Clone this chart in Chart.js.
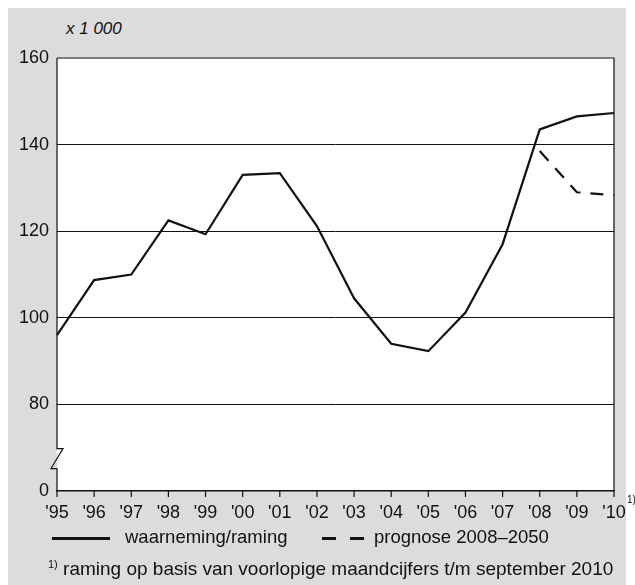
<!DOCTYPE html>
<html><head><meta charset="utf-8">
<script src="https://cdn.jsdelivr.net/npm/chart.js@4"></script>
<style>
body{margin:0;background:#fff;font-family:"Liberation Sans",Arial,sans-serif;}
#bg{position:absolute;left:8px;top:8px;width:618px;height:577px;background:#dcdcdc;}
#wrap{position:absolute;left:0px;top:8px;width:635px;height:520px;}
.t{position:absolute;font-size:18.5px;color:#111;white-space:nowrap;}
.ln{position:absolute;height:3px;background:#111;}
</style></head><body>
<div id="bg"></div>
<div class="t" style="left:66px;top:19px;font-style:italic;font-size:17px;">x 1 000</div>
<div id="wrap"><canvas id="c"></canvas></div>
<div class="ln" style="left:52px;top:537px;width:58px;"></div>
<div class="t" style="left:125px;top:526px;">waarneming/raming</div>
<div class="ln" style="left:322px;top:537px;width:14px;"></div>
<div class="ln" style="left:350px;top:537px;width:14px;"></div>
<div class="t" style="left:374px;top:526px;">prognose 2008–2050</div>
<div class="t" style="left:48px;top:558px;font-size:19px;"><span style="font-size:11px;position:relative;top:-7px">1)</span> raming op basis van voorlopige maandcijfers t/m september 2010</div>
<script>
const labels=["'95","'96","'97","'98","'99","'00","'01","'02","'03","'04","'05","'06","'07","'08","'09","'10"];
const observed=[96,108.7,110,122.5,119.3,133,133.4,121.2,104.5,94,92.3,101.2,117,143.5,146.5,147.3];
const forecast=[null,null,null,null,null,null,null,null,null,null,null,null,null,138.5,129,128.3];
const yTicks=[60,80,100,120,140,160];
const yLabels={60:'0',80:'80',100:'100',120:'120',140:'140',160:'160'};
const breakPlugin={id:'brk',afterDraw(ch){const c=ch.ctx,a=ch.chartArea,y=ch.scales.y,xs=ch.scales.x;
 const yb=y.getPixelForValue(67.5);c.save();c.fillStyle='#dcdcdc';c.fillRect(a.left-8,yb-12,8,24);
 c.strokeStyle='#111';c.lineWidth=1.2;c.beginPath();c.moveTo(a.left,y.getPixelForValue(60));c.lineTo(a.left,yb+10);c.lineTo(a.left-6,yb+10);c.lineTo(a.left+6,yb-10);c.lineTo(a.left,yb-10);c.lineTo(a.left,a.top);c.stroke();
 c.beginPath();for(let i=0;i<labels.length;i++){const px=xs.getPixelForValue(i);c.moveTo(px,a.bottom);c.lineTo(px,a.bottom+6);}c.stroke();
 c.fillStyle='#111';c.font='10px "Liberation Sans"';c.fillText('1)',xs.getPixelForValue(15)+13,a.bottom+12);c.restore();}};
const bgPlugin={id:'bg',beforeDraw(ch){const a=ch.chartArea,c=ch.ctx;c.save();c.fillStyle='#fff';c.fillRect(a.left,a.top,a.right-a.left,a.bottom-a.top);c.restore();}};
new Chart(document.getElementById('c'),{type:'line',
data:{labels,datasets:[
{data:observed,borderColor:'#111',borderWidth:2.2,pointRadius:0,tension:0},
{data:forecast,borderColor:'#111',borderWidth:2.2,borderDash:[13,10],pointRadius:0,tension:0}]},
options:{responsive:true,maintainAspectRatio:false,animation:false,
layout:{padding:{top:50,right:21,left:0,bottom:0}},
plugins:{legend:{display:false},tooltip:{enabled:false}},
scales:{
x:{offset:false,grid:{display:false},border:{color:'#111',width:1.5},
 ticks:{color:'#111',font:{size:18,family:'Liberation Sans'},maxRotation:0,autoSkip:false,padding:3},
 afterFit(s){s.height=37;}},
y:{min:60,max:160,afterBuildTicks(s){s.ticks=yTicks.map(v=>({value:v}));},
 grid:{color:c=>(c.tick&&c.tick.value>60&&c.tick.value<160)?'#111':'rgba(0,0,0,0)',lineWidth:1,drawTicks:false},
 border:{display:false},
 ticks:{color:'#111',font:{size:18,family:'Liberation Sans'},padding:8,callback:v=>yLabels[v]},
 afterFit(s){s.width=57;}}}},
plugins:[bgPlugin,breakPlugin,{id:'frame',afterDraw(ch){const a=ch.chartArea,c=ch.ctx;c.save();c.strokeStyle='#111';c.lineWidth=1.2;c.beginPath();c.moveTo(a.left,a.top);c.lineTo(a.right,a.top);c.lineTo(a.right,a.bottom);c.stroke();c.restore();}}]});
</script></body></html>
